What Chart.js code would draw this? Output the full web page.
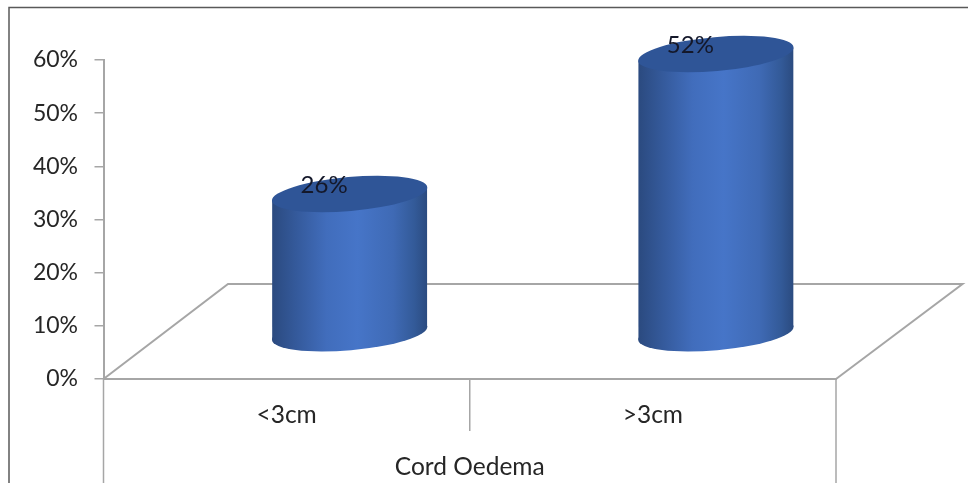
<!DOCTYPE html>
<html lang="en">
<head>
    <meta charset="UTF-8">
    <title>Cord Oedema</title>
    <script src="https://cdn.jsdelivr.net/npm/chart.js"></script>
    <style>
        html, body { margin: 0; padding: 0; background: #fff; overflow: hidden; }
        canvas { display: block; }
    </style>
</head>
<body>
<div>
    <canvas id="myChart" width="968" height="483"></canvas>
</div>
<script>
    const categories = ['<3cm', '>3cm']
    const values = [26, 52]
    const axisTitle = 'Cord Oedema'

    const lineColor = '#a6a6a6'
    const textColor = '#262626'
    const fontFamily = 'Lato, "Open Sans", sans-serif'

    // fake 3D : floor depth and where the cylinders stand on it
    const floorDx = 124.5
    const floorDy = 95
    const standDx = 63
    const standDy = 45
    const heightFactor = 1.0125
    const tilt = -5 * Math.PI / 180
    const radiusY = 17

    const line = (ctx, points, color, width) => {
        ctx.beginPath()
        points.forEach((p, i) => i ? ctx.lineTo(p[0], p[1]) : ctx.moveTo(p[0], p[1]))
        ctx.strokeStyle = color
        ctx.lineWidth = width
        ctx.stroke()
    }

    const decor = {
        id: 'decor',
        beforeDraw(chart) {
            const ctx = chart.ctx
            ctx.save()
            ctx.fillStyle = '#fff'
            ctx.fillRect(0, 0, chart.width, chart.height)
            // outer frame, cut by the picture on the right and bottom
            line(ctx, [[9, chart.height], [9, 7.5], [chart.width, 7.5]], '#595959', 1.5)
            ctx.restore()
        },
        beforeDatasetsDraw(chart) {
            const ctx = chart.ctx
            const x = chart.scales.x
            const y0 = chart.scales.y.getPixelForValue(0)
            ctx.save()
            line(ctx, [
                [x.left, y0],
                [x.left + floorDx, y0 - floorDy],
                [x.right + floorDx + 2, y0 - floorDy],
                [x.right, y0]
            ], lineColor, 2)
            // separators under the category axis
            const mid = (x.left + x.right) / 2
            line(ctx, [[x.left, y0], [x.left, chart.height]], lineColor, 1.5)
            line(ctx, [[mid, y0], [mid, y0 + 52]], lineColor, 1.5)
            line(ctx, [[x.right, y0], [x.right, chart.height]], lineColor, 1.5)
            ctx.restore()
        },
        afterDatasetsDraw(chart) {
            const ctx = chart.ctx
            const meta = chart.getDatasetMeta(0)
            meta.data.forEach((bar, i) => {
                const cx = bar.x + standDx
                const rx = bar.width / 2
                const baseY = bar.base - standDy
                const topY = baseY - (bar.base - bar.y) * heightFactor
                const edge = (rx * rx - radiusY * radiusY) * Math.sin(-tilt) * Math.cos(tilt) / rx

                const grad = ctx.createLinearGradient(cx - rx, 0, cx + rx, 0)
                grad.addColorStop(0, '#2b4a7f')
                grad.addColorStop(0.15, '#34599a')
                grad.addColorStop(0.35, '#416dbc')
                grad.addColorStop(0.55, '#4675c8')
                grad.addColorStop(0.78, '#3f6ab5')
                grad.addColorStop(0.92, '#335a98')
                grad.addColorStop(1, '#2b4b80')

                ctx.save()
                ctx.fillStyle = grad
                ctx.beginPath()
                ctx.moveTo(cx - rx, topY + edge)
                ctx.lineTo(cx + rx, topY - edge)
                ctx.lineTo(cx + rx, baseY - edge)
                ctx.lineTo(cx - rx, baseY + edge)
                ctx.closePath()
                ctx.fill()
                ctx.beginPath()
                ctx.ellipse(cx, baseY, rx + 0.5, radiusY, tilt, 0, Math.PI * 2)
                ctx.fill()

                ctx.fillStyle = '#2f5597'
                ctx.beginPath()
                ctx.ellipse(cx, topY, rx + 0.5, radiusY, tilt, 0, Math.PI * 2)
                ctx.fill()

                ctx.fillStyle = '#14182a'
                ctx.font = '24px ' + fontFamily
                ctx.textAlign = 'center'
                ctx.textBaseline = 'middle'
                ctx.fillText(values[i] + '%', cx - 25.5, topY - 8.5)
                ctx.restore()
            })
        }
    }

    new Chart(document.getElementById('myChart'), {
        type: 'bar',
        data: {
            labels: categories,
            datasets: [{
                data: values,
                backgroundColor: 'rgba(0,0,0,0)',
                borderWidth: 0,
                categoryPercentage: 1,
                barPercentage: 0.423
            }]
        },
        options: {
            responsive: false,
            animation: false,
            layout: { padding: { top: 60, right: 132, left: 0, bottom: 0 } },
            plugins: { legend: { display: false }, tooltip: { enabled: false } },
            scales: {
                x: {
                    grid: { display: false },
                    border: { color: lineColor, width: 2 },
                    ticks: { color: textColor, font: { family: fontFamily, size: 24.5 }, padding: 13 },
                    title: {
                        display: true,
                        text: axisTitle,
                        color: textColor,
                        font: { family: fontFamily, size: 24.5 },
                        padding: { top: 0, bottom: 1 }
                    },
                    afterFit(scale) { scale.height = 104 }
                },
                y: {
                    min: 0,
                    max: 60,
                    grid: { drawOnChartArea: false, color: lineColor, lineWidth: 1.5, tickLength: 9 },
                    border: { color: lineColor, width: 2 },
                    ticks: {
                        stepSize: 10,
                        color: textColor,
                        font: { family: fontFamily, size: 23 },
                        padding: 16.5,
                        callback: v => v + '%'
                    },
                    afterFit(scale) { scale.width = 103.5 }
                }
            }
        },
        plugins: [decor]
    })
</script>
</body>
</html>
